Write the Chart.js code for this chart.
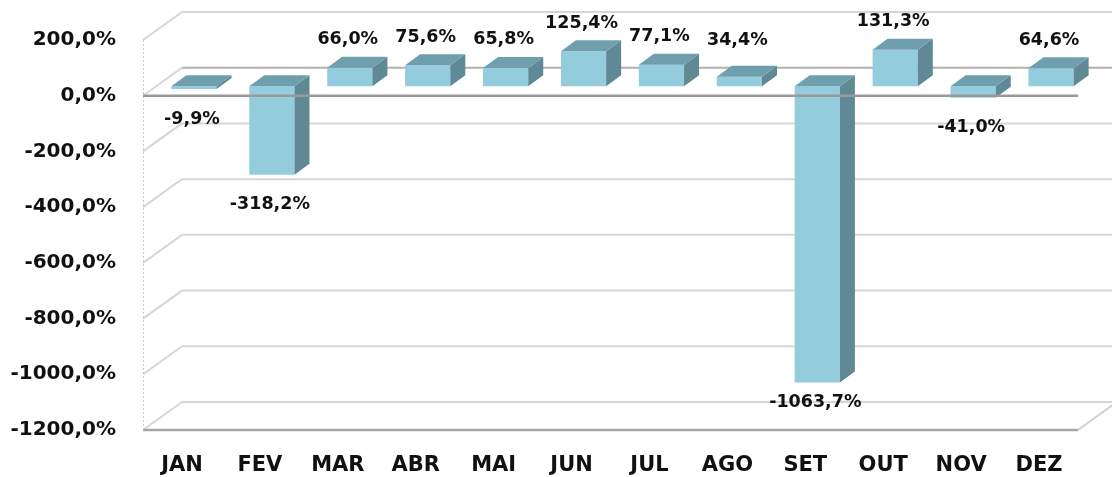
<!DOCTYPE html>
<html>
<head>
<meta charset="utf-8">
<script src="https://cdn.jsdelivr.net/npm/chart.js@4/dist/chart.umd.min.js"></script>
<style>
  html, body { margin: 0; padding: 0; background: #ffffff; }
  #wrap { width: 1112px; height: 477px; position: relative; }
</style>
</head>
<body>
<div id="wrap"><canvas id="c" width="1112" height="477"></canvas></div>
<script>
// ---- data ----
const categories = ['JAN','FEV','MAR','ABR','MAI','JUN','JUL','AGO','SET','OUT','NOV','DEZ'];
const variation = [-9.9, -318.2, 66.0, 75.6, 65.8, 125.4, 77.1, 34.4, -1063.7, 131.3, -41.0, 64.6];
const axisMin = -1200;
const axisMax = 200;
const axisStep = 200;

// ---- style ----
const FONT = '"DejaVu Sans", sans-serif';
const FRONT = '#93CCDC';
const TOP = '#6F9FAD';
const SIDE = '#5E8995';
const WALL = { dx: 39, dy: -28 };     // depth of the walls
const SHIFT = { dx: 12, dy: -9.5 };   // bars sit inside the depth
const BAR = { dx: 15, dy: -11 };      // depth of each bar

function fmt(v) { return v.toFixed(1).replace('.', ',') + '%'; }

const threeD = {
  id: 'threeD',
  beforeDatasetsDraw(chart) {
    const ctx = chart.ctx;
    const a = chart.chartArea;
    const ys = chart.scales.y;
    ctx.save();
    ctx.lineWidth = 2;
    // back wall + side wall gridlines
    for (let v = axisMax; v >= axisMin; v -= axisStep) {
      const yf = ys.getPixelForValue(v);
      const yb = yf + WALL.dy;
      ctx.strokeStyle = '#d6d6d6';
      ctx.beginPath();
      ctx.moveTo(a.left, yf);
      ctx.lineTo(a.left + WALL.dx, yb);
      ctx.stroke();
      ctx.strokeStyle = (v === 0) ? '#b0b0b0' : '#d6d6d6';
      ctx.beginPath();
      ctx.moveTo(a.left + WALL.dx, yb);
      ctx.lineTo(a.right + WALL.dx + 10, yb);
      ctx.stroke();
    }
    // floor right edge
    const yFloor = ys.getPixelForValue(axisMin);
    ctx.strokeStyle = '#d0d0d0';
    ctx.beginPath();
    ctx.moveTo(a.right, yFloor);
    ctx.lineTo(a.right + WALL.dx, yFloor + WALL.dy);
    ctx.stroke();
    // floor front edge
    ctx.strokeStyle = '#a6a6a6';
    ctx.lineWidth = 2.5;
    ctx.beginPath();
    ctx.moveTo(a.left, yFloor);
    ctx.lineTo(a.right, yFloor);
    ctx.stroke();
    // left dotted axis line
    ctx.strokeStyle = '#c8c8c8';
    ctx.lineWidth = 1;
    ctx.setLineDash([2, 2]);
    ctx.beginPath();
    ctx.moveTo(a.left + 0.5, ys.getPixelForValue(axisMax));
    ctx.lineTo(a.left + 0.5, yFloor);
    ctx.stroke();
    ctx.setLineDash([]);
    ctx.restore();

    ctx.save();
    ctx.translate(SHIFT.dx, SHIFT.dy);
  },
  afterDatasetsDraw(chart) {
    const ctx = chart.ctx;
    const meta = chart.getDatasetMeta(0);
    meta.data.forEach((bar) => {
      const p = bar.getProps(['x', 'y', 'base', 'width'], true);
      const x1 = p.x - p.width / 2, x2 = p.x + p.width / 2;
      const yt = Math.min(p.y, p.base), yb = Math.max(p.y, p.base);
      ctx.fillStyle = SIDE;
      ctx.beginPath();
      ctx.moveTo(x2, yt);
      ctx.lineTo(x2 + BAR.dx, yt + BAR.dy);
      ctx.lineTo(x2 + BAR.dx, yb + BAR.dy);
      ctx.lineTo(x2, yb);
      ctx.closePath();
      ctx.fill();
      ctx.fillStyle = TOP;
      ctx.beginPath();
      ctx.moveTo(x1, yt);
      ctx.lineTo(x2, yt);
      ctx.lineTo(x2 + BAR.dx, yt + BAR.dy);
      ctx.lineTo(x1 + BAR.dx, yt + BAR.dy);
      ctx.closePath();
      ctx.fill();
    });
    ctx.restore();

    // front zero axis line
    const a = chart.chartArea;
    const y0 = chart.scales.y.getPixelForValue(0);
    ctx.save();
    ctx.strokeStyle = '#9a9a9a';
    ctx.lineWidth = 2.5;
    ctx.beginPath();
    ctx.moveTo(a.left, y0);
    ctx.lineTo(a.right, y0);
    ctx.stroke();
    ctx.restore();
  },
  afterDraw(chart) {
    const ctx = chart.ctx;
    const meta = chart.getDatasetMeta(0);
    ctx.save();
    ctx.font = 'bold 17.5px ' + FONT;
    ctx.fillStyle = '#111111';
    ctx.textAlign = 'center';
    ctx.textBaseline = 'middle';
    meta.data.forEach((bar, i) => {
      const v = variation[i];
      const p = bar.getProps(['x', 'y', 'base'], true);
      const x = p.x + SHIFT.dx - 2;
      let y;
      if (v >= 0) {
        y = Math.min(p.y + SHIFT.dy - 28, 40);
      } else {
        y = Math.min(p.y + SHIFT.dy + 30, 402);
      }
      ctx.fillText(fmt(v), x, y);
    });
    ctx.restore();
  }
};

new Chart(document.getElementById('c'), {
  type: 'bar',
  data: {
    labels: categories,
    datasets: [{
      data: variation,
      backgroundColor: FRONT,
      borderWidth: 0,
      barPercentage: 0.58,
      categoryPercentage: 1.0,
      clip: false
    }]
  },
  options: {
    responsive: false,
    animation: false,
    layout: { padding: { top: 40, right: 34, bottom: 0, left: 0 } },
    plugins: { legend: { display: false }, tooltip: { enabled: false } },
    scales: {
      x: {
        grid: { display: false, drawTicks: false },
        border: { display: false },
        ticks: { color: '#111111', font: { family: FONT, size: 21, weight: 'bold' }, padding: 23, maxRotation: 0 },
        afterFit(s) { s.height = 47; }
      },
      y: {
        min: axisMin,
        max: axisMax,
        grid: { display: false, drawTicks: false },
        border: { display: false },
        ticks: {
          stepSize: axisStep,
          color: '#111111',
          font: { family: FONT, size: 20, weight: 'bold' },
          padding: 27,
          callback: (v) => fmt(v)
        },
        afterFit(s) { s.width = 143; }
      }
    }
  },
  plugins: [threeD]
});
</script>
</body>
</html>
